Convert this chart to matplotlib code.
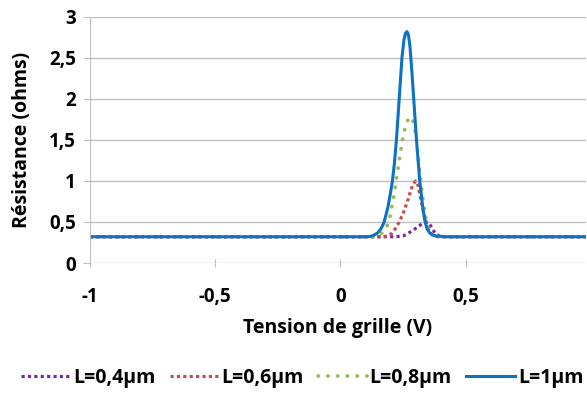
import matplotlib.pyplot as plt
from matplotlib.ticker import FuncFormatter

plt.rcParams["font.family"] = ["Open Sans", "DejaVu Sans"]
plt.rcParams["font.weight"] = "bold"

# L=0,4µm
x_04 = [-1.0, 0.0, 0.22, 0.25, 0.265, 0.28, 0.295, 0.31, 0.322, 0.333, 0.344, 0.355, 0.365,
        0.375, 0.385, 0.394, 0.42, 0.98]
y_04 = [0.32, 0.32, 0.32, 0.33, 0.35, 0.38, 0.41, 0.44, 0.47, 0.49, 0.50, 0.48, 0.43,
        0.38, 0.345, 0.33, 0.32, 0.32]
# L=0,6µm
x_06 = [-1.0, 0.0, 0.17, 0.19, 0.205, 0.22, 0.235, 0.25, 0.268, 0.28, 0.29, 0.301, 0.31,
        0.321, 0.332, 0.344, 0.355, 0.365, 0.375, 0.39, 0.42, 0.98]
y_06 = [0.32, 0.32, 0.32, 0.33, 0.36, 0.42, 0.50, 0.60, 0.75, 0.87, 0.96, 1.00, 0.95,
        0.78, 0.62, 0.48, 0.39, 0.35, 0.33, 0.32, 0.32, 0.32]
# L=0,8µm
x_08 = [-1.0, 0.0, 0.13, 0.15, 0.168, 0.182, 0.195, 0.21, 0.223, 0.236, 0.248, 0.258, 0.268,
        0.276, 0.282, 0.288, 0.296, 0.304, 0.312, 0.321, 0.332, 0.344, 0.355, 0.365, 0.38,
        0.42, 0.98]
y_08 = [0.32, 0.32, 0.32, 0.33, 0.37, 0.42, 0.52, 0.75, 1.00, 1.27, 1.50, 1.64, 1.73,
        1.77, 1.78, 1.75, 1.66, 1.50, 1.26, 1.00, 0.72, 0.50, 0.39, 0.35, 0.33, 0.32, 0.32]
# L=1µm
x_10 = [-1.0, 0.0, 0.10, 0.12, 0.135, 0.15, 0.163, 0.175, 0.19, 0.20, 0.208, 0.216, 0.224,
        0.235, 0.246, 0.254, 0.260, 0.266, 0.272, 0.278, 0.285, 0.293, 0.304, 0.317, 0.328,
        0.337, 0.346, 0.356, 0.366, 0.381, 0.42, 0.98]
y_10 = [0.32, 0.32, 0.32, 0.325, 0.34, 0.37, 0.42, 0.50, 0.68, 0.85, 1.00, 1.22, 1.50,
        2.00, 2.50, 2.72, 2.80, 2.82, 2.78, 2.64, 2.36, 2.00, 1.50, 1.00, 0.70, 0.52, 0.42,
        0.37, 0.345, 0.33, 0.32, 0.32]

labels = ["L=0,4µm", "L=0,6µm", "L=0,8µm", "L=1µm"]
colors = ["#7030A0", "#C0504D", "#9BBB59", "#0B72C4"]

fig = plt.figure(figsize=(5.87, 3.97), dpi=100)
ax = fig.add_axes([0.153, 0.3375, 0.845, 0.62])

ax.plot(x_04, y_04, color=colors[0], lw=2.3, linestyle=(0, (1, 1)), dash_capstyle="butt", label=labels[0])
ax.plot(x_06, y_06, color=colors[1], lw=2.3, linestyle=(0, (1, 1)), dash_capstyle="butt", label=labels[1])
ax.plot(x_08, y_08, color=colors[2], lw=2.7, linestyle=(0, (0.1, 2.5)), dash_capstyle="round", label=labels[2])
ax.plot(x_10, y_10, color=colors[3], lw=2.2, label=labels[3], solid_joinstyle="round")

ax.set_xlim(-1, 0.98)
ax.set_ylim(0, 3)
ax.set_xticks([-1, -0.5, 0, 0.5])
ax.set_yticks([0, 0.5, 1, 1.5, 2, 2.5, 3])
fmt = FuncFormatter(lambda v, p: ("%g" % v).replace(".", ","))
ax.xaxis.set_major_formatter(fmt)
ax.yaxis.set_major_formatter(fmt)
ax.yaxis.grid(True, color="#BFBFBF", lw=1)
ax.set_axisbelow(True)
for s in ["top", "right", "bottom"]:
    ax.spines[s].set_visible(False)
ax.spines["left"].set_color("#BFBFBF")
ax.tick_params(axis="y", length=5, color="#BFBFBF", labelsize=13.5, pad=5)
ax.tick_params(axis="x", length=6, color="#BFBFBF", labelsize=13.5, pad=14, direction="inout")
for t in ax.get_xticklabels() + ax.get_yticklabels():
    t.set_fontweight("bold")

ax.set_xlabel("Tension de grille (V)", fontsize=14, fontweight="bold", labelpad=8)
ax.set_ylabel("Résistance (ohms)", fontsize=14, fontweight="bold", labelpad=12)

fig.legend(loc="center", bbox_to_anchor=(0.515, 0.048), ncol=4, frameon=False,
           prop={"size": 14, "weight": "bold"}, handlelength=2.5, handletextpad=0.15,
           columnspacing=0.75)

fig.savefig("out.png", dpi=100)
